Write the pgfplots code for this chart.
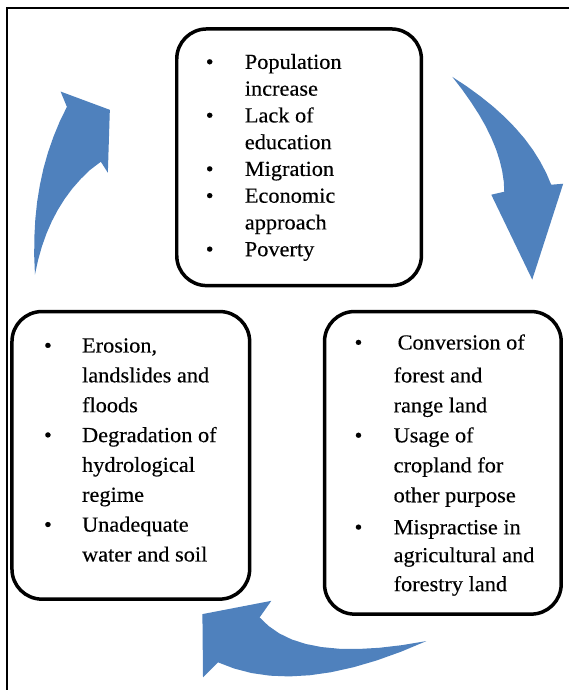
\documentclass[border=0pt]{standalone}
\usepackage{pgfplots}
\pgfplotsset{compat=1.18}
\usepackage{fontspec}
\setmainfont[FakeStretch=1.04,FakeBold=0.3]{Liberation Serif}
\definecolor{arrowblue}{HTML}{4F81BD}
\newcommand{\T}[3]{\node[anchor=base west,inner sep=0pt,font=\fontsize{21.5}{26}\selectfont] at (axis cs:#1,#2) {#3};}
\newcommand{\B}[2]{\node[anchor=base,inner sep=0pt,font=\fontsize{21.5}{26}\selectfont] at (axis cs:#1,#2) {\textbullet};}
\begin{document}
\begin{tikzpicture}
\begin{axis}[scale only axis, width=570pt, height=691pt,
  xmin=0, xmax=570, ymin=0, ymax=691, y dir=reverse,
  hide axis, clip=false]
\addplot[draw=none, forget plot] coordinates {(0,0) (570,691)};
% outer frame
\addplot[black, line width=2pt] coordinates {(570,8) (7,8) (7,691)};
% boxes
\addplot[black, line width=3.5pt, rounded corners=30pt] coordinates
  {(300,29) (422,29) (422,286) (177,286) (177,29) (300,29)};
\addplot[black, line width=3.5pt, rounded corners=30pt] coordinates
  {(130,312) (250,312) (250,600) (12,600) (12,312) (130,312)};
\addplot[black, line width=3.5pt, rounded corners=30pt] coordinates
  {(440,312) (562,312) (562,615) (325,615) (325,312) (440,312)};
% right arrow
\addplot[fill=arrowblue, draw=none] coordinates {
  (453,77) (467.76,86.72) (481.4,96.7) (494.04,106.88) (505.6,117.3) (516,128)
  (525.4,138.9) (533.64,150.08) (540.8,161.5) (546.96,173.12) (552,185)
  (564,184) (533,280) (492,195) (505,192)
  (504.48,181.76) (502.9,171.3) (500.32,160.44) (496.7,149.3) (492,138)
  (486.3,126.3) (479.52,114.44) (471.7,102.3) (462.88,89.76) (453,77)} -- cycle;
% left arrow
\addplot[fill=arrowblue, draw=none] coordinates {
  (35,275) (34.24,256.04) (34.4,237.6) (35.36,219.56) (37.2,202) (40,185)
  (43.6,168.4) (48.16,152.36) (53.6,136.8) (59.84,121.64) (67,107)
  (60.7,91.7) (110,110) (108,173) (101,162)
  (90.08,170.24) (80.9,179.2) (72.52,188.76) (64.9,199) (58,210)
  (51.9,221.6) (46.52,233.96) (41.9,247) (38.08,260.64) (35,275)} -- cycle;
% bottom arrow
\addplot[fill=arrowblue, draw=none] coordinates {
  (202.7,615) (271.7,601.7) (260,618.3)
  (268.96,626.88) (279.64,634.32) (292.04,640.32) (306.16,644.88) (322,648)
  (339.56,649.68) (358.84,649.92) (379.84,648.72) (402.56,646.08) (427,642)
  (401.6,652.65) (377.2,661.4) (353.8,668.25) (331.4,673.2) (310,676.25)
  (289.6,677.4) (270.2,676.65) (251.8,674) (234.4,669.45) (218.3,663.3)
  (203.3,678.3) (202.7,615)} -- cycle;
% top box text
\B{210}{69}    \T{245}{69}{Population}
               \T{245}{95.8}{increase}
\B{210}{122.6} \T{245}{122.6}{Lack of}
               \T{245}{149.4}{education}
\B{210}{176.2} \T{245}{176.2}{Migration}
\B{210}{203}   \T{245}{203}{Economic}
               \T{245}{229.8}{approach}
\B{210}{256.6} \T{245}{256.6}{Poverty}
% left box text
\B{48}{353}    \T{82}{353}{Erosion,}
               \T{82}{382.9}{landslides and}
               \T{82}{412.8}{floods}
\B{48}{442.7}  \T{82}{442.7}{Degradation of}
               \T{82}{472.6}{hydrological}
               \T{82}{502.5}{regime}
\B{48}{532.4}  \T{82}{532.4}{Unadequate}
               \T{82}{562.3}{water and soil}
% right box text
\B{359}{350}   \T{398}{350}{Conversion of}
               \T{394}{383}{forest and}
               \T{394}{413}{range land}
\B{359}{443}   \T{394}{443}{Usage of}
               \T{394}{473}{cropland for}
               \T{394}{503}{other purpose}
\B{359}{535}   \T{394}{535}{Mispractise in}
               \T{394}{563}{agricultural and}
               \T{394}{592}{forestry land}
\end{axis}
\end{tikzpicture}
\end{document}
